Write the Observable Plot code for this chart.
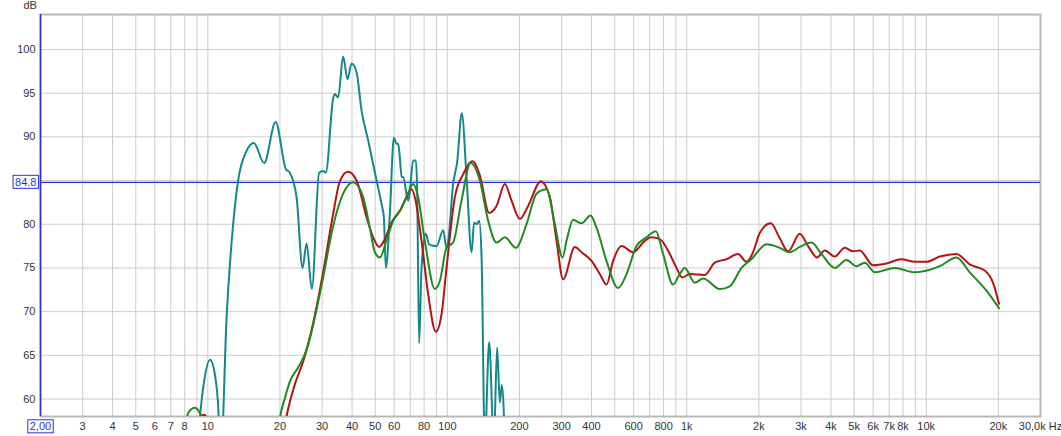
<!DOCTYPE html>
<html><head><meta charset="utf-8">
<script src="https://cdn.jsdelivr.net/npm/d3@7"></script>
<script src="https://cdn.jsdelivr.net/npm/@observablehq/plot@0.6"></script>
<style>
body{margin:0;background:#fff;}
#chart svg{display:block;overflow:visible}
</style></head><body><div id="chart"></div>
<script>
// Teal curve (Hz, dB)
const tealFreq = [9.0, 9.26, 9.56, 10.22, 10.7, 11.05, 11.25, 11.35, 11.97, 12.75, 13.38, 14.51, 15.56, 17.18, 19.18, 21.17, 21.99, 23.46, 24.86, 25.83, 27.18, 29.15, 30.29, 31.09, 33.36, 33.91, 35.0, 36.71, 38.3, 39.81, 41.78, 43.84, 46.71, 50.64, 53.13, 54.32, 55.37, 57.54, 59.8, 61.38, 62.33, 63.36, 64.4, 65.4, 68.61, 69.74, 71.97, 73.86, 74.79, 76.25, 78.02, 81.32, 83.95, 90.14, 96.04, 99.25, 100.8, 105.7, 109.9, 114.9, 120.3, 126.2, 129.4, 132.8, 135.8, 139.0, 143.4, 149.5, 156.4, 161.4, 165.7, 168.9, 173.9];
const tealDb   = [55, 58, 61.3, 64.5, 62.8, 59, 54, 54, 69.3, 80.0, 85.0, 88.4, 89.3, 87.0, 91.7, 86.3, 85.9, 83.1, 75.0, 77.8, 72.6, 85.9, 86.1, 85.9, 94.4, 94.9, 94.5, 99.2, 96.6, 98.4, 97.4, 93.0, 89.6, 85.0, 82.3, 80.8, 75.0, 81.2, 89.9, 89.2, 89.2, 87.6, 85.4, 85.4, 82.7, 83.8, 87.3, 87.3, 84.2, 66.4, 75.0, 78.9, 77.7, 77.5, 79.3, 77.3, 78.0, 84.6, 87.1, 92.7, 85.4, 76.8, 80.2, 80.0, 80.4, 76.2, 55, 66.5, 55, 65.9, 59.6, 61.6, 55];

// Red curve (Hz, dB)
const redFreq = [9.0, 9.35, 9.6, 9.9, 10.3, 20.5, 21.3, 23.09, 25.0, 27.53, 30.29, 33.36, 35.57, 38.43, 41.78, 45.99, 49.0, 51.93, 54.83, 58.48, 63.36, 67.55, 70.87, 73.16, 78.03, 83.17, 89.54, 94.58, 99.24, 107.5, 116.4, 127.4, 136.7, 149.5, 160.5, 173.9, 185.4, 200.8, 217.5, 245.7, 267.9, 285.8, 304.5, 340.8, 363.4, 400.1, 433.2, 462.0, 492.4, 533.8, 596.9, 667.9, 712.3, 771.6, 849.2, 905.7, 959.4, 1029, 1189, 1309, 1465, 1638, 1775, 1892, 2017, 2243, 2445, 2649, 2964, 3210, 3500, 3770, 4150, 4568, 4948, 5277, 5996, 6821, 7880, 8954, 10020, 11390, 13370, 15190, 17550, 19010, 20130];
const redDb   = [55, 57.9, 58.2, 57.9, 55, 55.5, 58.0, 61.7, 64.3, 68.7, 74.5, 81.2, 84.9, 86.0, 85.0, 80.8, 78.5, 77.4, 78.3, 80.2, 81.5, 83.1, 84.0, 83.1, 78.1, 72.0, 67.7, 69.7, 75.0, 83.1, 85.7, 87.2, 85.6, 81.3, 82.1, 84.6, 82.7, 80.6, 82.1, 84.9, 83.1, 78.1, 73.7, 77.4, 76.8, 75.8, 74.3, 73.1, 75.8, 77.5, 76.8, 78.1, 78.5, 78.3, 76.6, 75.0, 73.9, 74.3, 74.2, 75.6, 76.0, 76.6, 75.7, 76.8, 79.0, 80.1, 78.4, 76.9, 78.9, 77.5, 76.2, 77.0, 76.3, 77.3, 76.9, 77.0, 75.3, 75.5, 76.0, 75.7, 75.7, 76.3, 76.6, 75.4, 74.7, 73.3, 70.9];

// Green curve (Hz, dB)
const greenFreq = [8.0, 8.27, 8.82, 9.26, 9.6, 10.0, 19.5, 19.98, 20.97, 22.0, 23.82, 25.0, 26.23, 27.53, 30.29, 33.36, 36.71, 40.44, 44.51, 47.47, 49.81, 52.27, 55.75, 59.38, 64.4, 68.61, 71.97, 75.52, 80.55, 88.67, 93.05, 99.24, 105.7, 114.6, 125.0, 136.7, 148.1, 160.5, 173.9, 193.2, 214.1, 235.8, 259.6, 281.2, 302.7, 314.6, 335.3, 363.4, 396.2, 419.8, 462.0, 516.8, 560.1, 616.6, 678.8, 742.6, 796.2, 876.6, 935.0, 980.9, 1080, 1170, 1374, 1512, 1692, 1862, 2152, 2445, 2692, 2964, 3317, 3651, 4150, 4644, 5112, 5538, 6095, 7388, 8954, 11390, 13370, 15190, 17840, 20130];
const greenDb   = [55.5, 58.4, 59.0, 58.4, 57.3, 55, 55.5, 57.8, 60.1, 62.0, 63.6, 64.7, 66.2, 68.5, 73.9, 79.8, 83.5, 84.8, 83.1, 79.6, 76.8, 76.2, 78.2, 80.4, 81.9, 83.6, 84.6, 83.1, 78.1, 72.6, 73.5, 77.3, 77.9, 82.7, 87.0, 85.0, 80.4, 77.9, 78.5, 77.3, 80.0, 83.5, 84.0, 80.0, 76.2, 78.1, 80.5, 80.1, 81.0, 79.6, 75.8, 72.7, 74.3, 77.5, 78.5, 79.2, 76.6, 73.1, 74.3, 75.0, 73.3, 73.8, 72.6, 72.9, 75.0, 76.0, 77.7, 77.3, 76.8, 77.4, 77.9, 76.6, 75.0, 75.9, 75.2, 75.6, 74.5, 75.0, 74.5, 75.2, 76.2, 74.5, 72.4, 70.4];

// Reference level
const refLevel = [84.8];

// Axis ticks and labels
const xTickValues = [3, 4, 5, 6, 7, 8, 10, 20, 30, 40, 50, 60, 80, 100, 200, 300, 400, 600, 800, 1000, 2000, 3000, 4000, 5000, 6000, 7000, 8000, 10000, 20000, 30000];
const xTickLabels = ["3", "4", "5", "6", "7", "8", "10", "20", "30", "40", "50", "60", "80", "100", "200", "300", "400", "600", "800", "1k", "2k", "3k", "4k", "5k", "6k", "7k", "8k", "10k", "20k", "30,0k Hz"];
const xGrid = [3, 4, 5, 6, 7, 8, 9, 10, 20, 30, 40, 50, 60, 70, 80, 90, 100, 200, 300, 400, 500, 600, 700, 800, 900, 1000, 2000, 3000, 4000, 5000, 6000, 7000, 8000, 9000, 10000, 20000];
const yTickValues = [60, 65, 70, 75, 80, 90, 95, 100];
const yGrid = [60, 65, 70, 75, 80, 85, 90, 95, 100];
const xStartLabel = ["2,00"];
const xStart = [2];

const toRows = (fs, ds) => fs.map((f, i) => ({f, db: ds[i]}));
const teal = toRows(tealFreq, tealDb);
const red = toRows(redFreq, redDb);
const green = toRows(greenFreq, greenDb);

const BLUE = "#2e2ee0";
const plot = Plot.plot({
  width: 1061, height: 436,
  marginLeft: 40, marginRight: 21, marginTop: 14, marginBottom: 20,
  style: {fontFamily: "'Liberation Sans', Arial, sans-serif", fontSize: "11px", color: "#333", background: "#fff", overflow: "visible"},
  x: {type: "log", domain: [2, 30000], label: null, axis: null},
  y: {domain: [58, 104], label: null},
  marks: [
    Plot.gridX(xGrid, {stroke: "#cccccc", strokeOpacity: 1}),
    Plot.gridY(yGrid, {stroke: "#cccccc", strokeOpacity: 1}),
    Plot.frame({stroke: "#b8b8b8", strokeWidth: 2}),
    Plot.text(xTickValues, {x: d => d, text: (d, i) => xTickLabels[i], frameAnchor: "bottom", lineAnchor: "top", dy: 6, fill: "#333", fontSize: 11}),
    Plot.axisY(yTickValues, {tickSize: 0, tickPadding: 5, tickFormat: d => String(d), fill: "#333", fontSize: 11, label: null}),
    Plot.ruleY(refLevel, {stroke: BLUE, strokeWidth: 1.2}),
    Plot.ruleX(xStart, {stroke: BLUE, strokeWidth: 1.5}),
    Plot.line(teal, {x: "f", y: "db", stroke: "#13878a", strokeWidth: 2, curve: "monotone-x", clip: true}),
    Plot.line(red, {x: "f", y: "db", stroke: "#b41414", strokeWidth: 2, curve: "monotone-x", clip: true}),
    Plot.line(green, {x: "f", y: "db", stroke: "#1f8a1f", strokeWidth: 2, curve: "monotone-x", clip: true}),
    Plot.text(refLevel, {y: d => d, text: d => String(d), frameAnchor: "left", textAnchor: "end", dx: -4, fill: BLUE, fontSize: 11}),
    Plot.text(xStart, {x: d => d, text: (d, i) => xStartLabel[i], frameAnchor: "bottom", lineAnchor: "top", dy: 6, fill: BLUE, fontSize: 11}),
    Plot.text(["dB"], {text: d => d, frameAnchor: "top-left", textAnchor: "start", lineAnchor: "top", dx: -17, dy: -13, fill: "#333", fontSize: 11})
  ]
});
document.getElementById("chart").append(plot);

// draw boxes around the blue cursor labels
plot.querySelectorAll("text").forEach(t => {
  const s = t.textContent;
  if (s === "84.8" || s === "2,00") {
    const b = t.getBBox();
    const r = document.createElementNS("http://www.w3.org/2000/svg", "rect");
    r.setAttribute("x", b.x - 2);
    r.setAttribute("y", b.y - 0.5);
    r.setAttribute("width", b.width + 4);
    r.setAttribute("height", b.height + 1);
    r.setAttribute("fill", "#fff");
    r.setAttribute("stroke", BLUE);
    r.setAttribute("stroke-width", 1);
    const tr = t.getAttribute("transform");
    if (tr) r.setAttribute("transform", tr);
    t.parentNode.insertBefore(r, t);
  }
});
</script></body></html>
